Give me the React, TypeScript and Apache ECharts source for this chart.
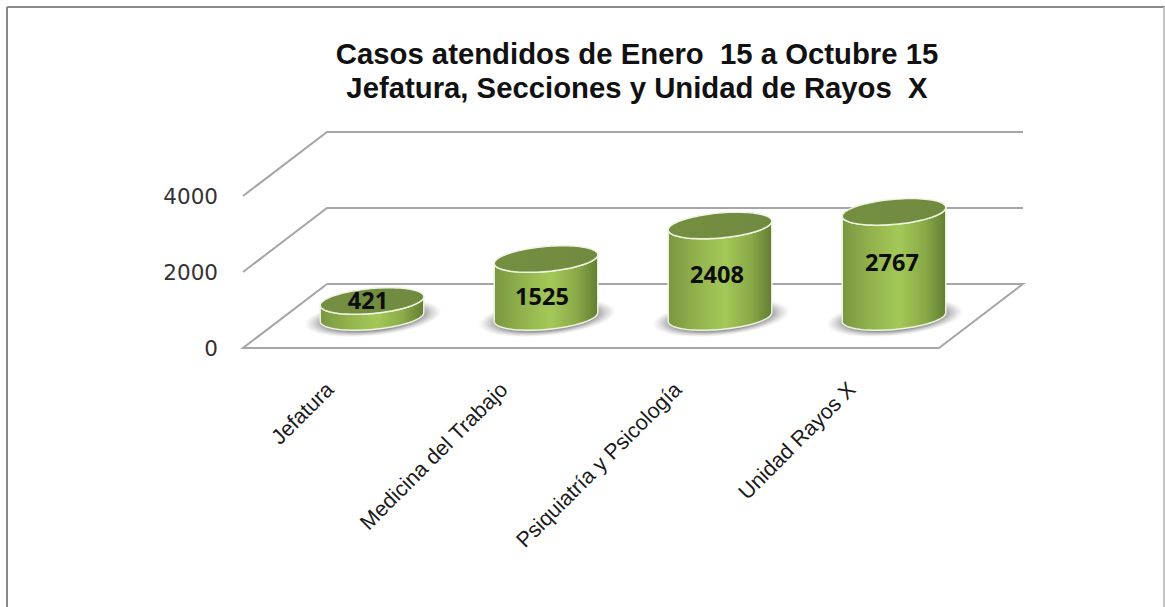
import React, { useEffect, useRef } from "react";
import * as echarts from "echarts";

const titleLines = ["Casos atendidos de Enero  15 a Octubre 15", "Jefatura, Secciones y Unidad de Rayos  X"];
const categories = ["Jefatura", "Medicina del Trabajo", "Psiquiatría y Psicología", "Unidad Rayos X"];
const casos = [421, 1525, 2408, 2767];
const valueTicks = [0, 2000, 4000];
const labelNudge = [[-4, -9], [-4, 8], [-3, 3], [-2, -2]];

const DEPTH_X = 84;
const DEPTH_Y = -64;
const RX = 52;
const RY = 12.5;
const TILT = 0.09;

function pt(cx: number, cy: number, t: number): number[] {
  const c = Math.cos(t), s = Math.sin(t), ca = Math.cos(TILT), sa = Math.sin(TILT);
  return [cx + RX * c * ca + RY * s * sa, cy - RX * c * sa + RY * s * ca];
}
function arc(cx: number, cy: number, from: number, to: number, n = 48): number[][] {
  const out: number[][] = [];
  for (let i = 0; i <= n; i++) out.push(pt(cx, cy, from + ((to - from) * i) / n));
  return out;
}

const bodyFill = new echarts.graphic.LinearGradient(0, 0, 1, 0, [
  { offset: 0, color: "#7a9740" },
  { offset: 0.3, color: "#94b54e" },
  { offset: 0.55, color: "#a4c858" },
  { offset: 0.8, color: "#8aa948" },
  { offset: 1, color: "#627e33" },
]);
const topFill = new echarts.graphic.LinearGradient(0, 0, 1, 0, [
  { offset: 0, color: "#748e42" },
  { offset: 1, color: "#708a3f" },
]);
const shadowFill = new echarts.graphic.RadialGradient(0.5, 0.5, 0.5, [
  { offset: 0, color: "rgba(100,100,100,0.95)" },
  { offset: 0.72, color: "rgba(120,120,120,0.75)" },
  { offset: 1, color: "rgba(170,170,170,0)" },
]);

export default function App() {
  const ref = useRef<HTMLDivElement>(null);
  useEffect(() => {
    const chart = echarts.init(ref.current!, null, { renderer: "svg" });
    chart.setOption({
      animation: false,
      backgroundColor: "#ffffff",
      title: {
        text: titleLines.join("\n"),
        left: 632,
        top: 31,
        textAlign: "center",
        textStyle: { fontFamily: "Liberation Sans", fontWeight: "bold", fontSize: 29.3, lineHeight: 34, color: "#111111" },
      },
      grid: { left: 243, width: 696, top: 196, height: 152 },
      xAxis: {
        type: "category",
        data: categories,
        axisLine: { show: false },
        axisTick: { show: false },
        axisLabel: {
          rotate: 45, interval: 0, margin: 38,
          fontFamily: "Liberation Sans", fontSize: 21.5, color: "#1a1a1a",
        },
      },
      yAxis: {
        type: "value",
        min: 0,
        max: 4000,
        interval: 2000,
        axisLine: { show: false },
        axisTick: { show: false },
        splitLine: { show: false },
        axisLabel: {
          margin: 25, fontFamily: "DejaVu Sans", fontSize: 21.5, color: "#333333",
          padding: [5, 0, 0, 0],
          formatter: (v: number) => String(v),
        },
      },
      graphic: [
        { type: "line", shape: { x1: 7, y1: 7, x2: 1165, y2: 7 }, style: { stroke: "#8a8a8a", lineWidth: 2 } },
        { type: "line", shape: { x1: 7, y1: 7, x2: 7, y2: 607 }, style: { stroke: "#8a8a8a", lineWidth: 2 } },
        { type: "line", shape: { x1: 1164, y1: 7, x2: 1164, y2: 607 }, style: { stroke: "#c4c4c4", lineWidth: 2 } },
      ],
      series: [
        {
          type: "custom",
          name: "Rejilla",
          clip: false,
          z: 1,
          silent: true,
          data: valueTicks.map((v) => [v]),
          renderItem: (_p: any, api: any) => {
            const v = api.value(0);
            const a = api.coord([0, v]);
            const size = api.size([1, 0]);
            const left = a[0] - size[0] / 2;
            const right = left + size[0] * categories.length;
            const y = a[1];
            const stroke = { stroke: "#a6a6a6", lineWidth: 2, fill: "none" };
            const points = v === 0
              ? [[left + DEPTH_X, y + DEPTH_Y], [right + DEPTH_X, y + DEPTH_Y], [right, y], [left, y], [left + DEPTH_X, y + DEPTH_Y]]
              : [[left, y], [left + DEPTH_X, y + DEPTH_Y], [right + DEPTH_X, y + DEPTH_Y]];
            return { type: "polyline", shape: { points }, style: stroke };
          },
        },
        {
          type: "custom",
          name: "Casos",
          clip: false,
          z: 2,
          data: casos.map((v, i) => [i, v]),
          renderItem: (_p: any, api: any) => {
            const i = api.value(0);
            const val = api.value(1);
            const base = api.coord([i, 0]);
            const head = api.coord([i, val]);
            const cx = base[0] + DEPTH_X / 2;
            const by = base[1] + DEPTH_Y / 2 + 1;
            const ty = head[1] + DEPTH_Y / 2 + 1;
            const edge = { stroke: "#eef3e2", lineWidth: 1.5 };
            const nudge = labelNudge[i];
            return {
              type: "group",
              children: [
                {
                  type: "ellipse",
                  shape: { cx: cx + 1, cy: by + 1, rx: 69, ry: 18 },
                  rotation: 0.1,
                  originX: cx + 1,
                  originY: by + 1,
                  style: { fill: shadowFill },
                },
                {
                  type: "polygon",
                  shape: { points: [...arc(cx, by, 0, Math.PI), ...arc(cx, ty, Math.PI, 0)] },
                  style: { fill: bodyFill, ...edge },
                },
                {
                  type: "polygon",
                  shape: { points: arc(cx, ty, 0, Math.PI * 2, 96) },
                  style: { fill: topFill, ...edge },
                },
                {
                  type: "text",
                  style: {
                    text: String(val),
                    x: cx + nudge[0],
                    y: (by + ty) / 2 + nudge[1],
                    textAlign: "center",
                    textVerticalAlign: "middle",
                    fontFamily: "Noto Sans",
                    fontWeight: "bold",
                    fontSize: 23.5,
                    fill: "#0d0d0d",
                  },
                },
              ],
            };
          },
        },
      ],
    });
    return () => chart.dispose();
  }, []);
  return <div ref={ref} style={{ position: "absolute", left: 0, top: 0, width: 1165, height: 607 }} />;
}
